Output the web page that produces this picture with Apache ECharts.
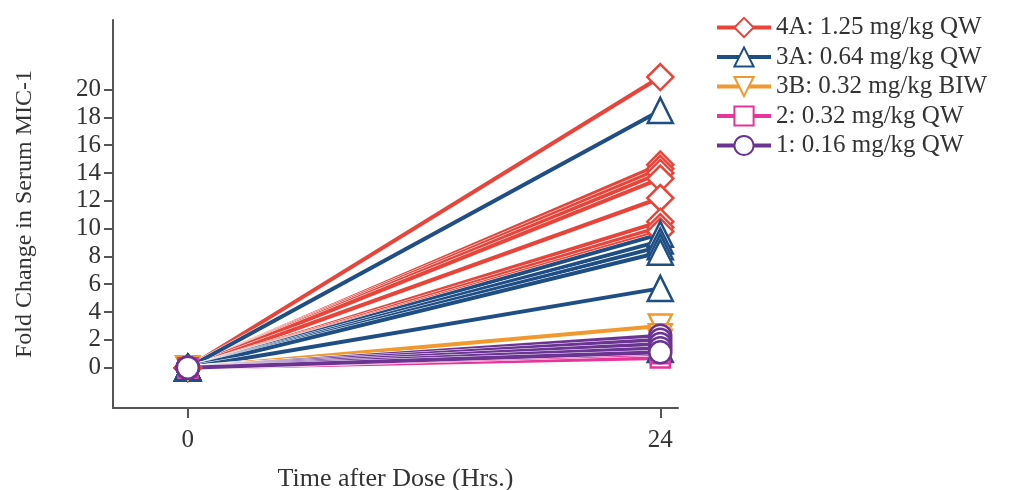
<!DOCTYPE html>
<html><head><meta charset="utf-8">
<script src="https://cdn.jsdelivr.net/npm/echarts@6/dist/echarts.min.js"></script>
<style>html,body{margin:0;padding:0;background:#fff}#c{width:1010px;height:490px}</style>
</head><body><div id="c"></div>
<script>
// Data
const groupNames = ['4A: 1.25 mg/kg QW','3A: 0.64 mg/kg QW','3B: 0.32 mg/kg BIW','2: 0.32 mg/kg QW','1: 0.16 mg/kg QW'];
const timePoints = [0, 24];
const baseline = 0;
const g4A = [20.9, 14.6, 14.3, 14.0, 13.6, 12.2, 10.5, 10.1, 9.8];
const g3A = [18.5, 9.6, 9.1, 8.7, 8.3, 5.7, 1.3];
const g3B = [3.0, 2.3, 1.9];
const g2 = [0.7, 1.0, 1.4];
const g1 = [2.3, 2.0, 1.7, 1.4, 1.1];
const yTicks = [0,2,4,6,8,10,12,14,16,18,20];
const xTicks = [0, 24];

const groups = [
  {name: groupNames[0], vals: g4A, color: '#E8443A', symbol: 'diamond', size: 26, rot: 0},
  {name: groupNames[1], vals: g3A, color: '#1F4E85', symbol: 'triangle', size: 25, rot: 0},
  {name: groupNames[2], vals: g3B, color: '#F0992E', symbol: 'triangle', size: 23, rot: 180},
  {name: groupNames[3], vals: g2, color: '#E6349A', symbol: 'rect', size: 19, rot: 0},
  {name: groupNames[4], vals: g1, color: '#6B3493', symbol: 'circle', size: 22, rot: 0}
];

const series = [];
groups.forEach(g => {
  g.vals.forEach(v => {
    const data = [[timePoints[0], baseline], [timePoints[1], v]];
    series.push({
      type: 'line', name: '_under', data: data, silent: true,
      showSymbol: false, symbol: 'none',
      lineStyle: {color: '#fff', width: 5}
    });
    series.push({
      type: 'line', name: g.name, data: data,
      symbol: g.symbol, symbolSize: g.size, symbolRotate: g.rot, showSymbol: true,
      lineStyle: {color: g.color, width: 4},
      itemStyle: {color: '#fff', borderColor: g.color, borderWidth: 2.5},
      emphasis: {disabled: true}
    });
  });
});

const serif = 'Liberation Serif, DejaVu Serif, serif';
const chart = echarts.init(document.getElementById('c'), null, {renderer: 'canvas'});
chart.setOption({
  animation: false,
  grid: {left: 113, right: 332, top: 20, bottom: 82, outerBoundsMode: 'none', containLabel: false},
  legend: {
    data: groupNames,
    orient: 'vertical', left: 710, top: 10,
    itemWidth: 54, itemHeight: 24, itemGap: 4.5,
    lineStyle: {width: 4},
    textStyle: {fontFamily: serif, fontSize: 25, color: '#333'}
  },
  xAxis: {
    type: 'value', min: -3.8, max: 24.9,
    name: 'Time after Dose (Hrs.)', nameLocation: 'middle', nameGap: 58,
    nameTextStyle: {fontFamily: serif, fontSize: 26, color: '#333'},
    axisLine: {show: true, onZero: false, lineStyle: {color: '#555', width: 2}},
    axisTick: {show: true, customValues: xTicks, length: 10, lineStyle: {color: '#555', width: 2}},
    axisLabel: {customValues: xTicks, fontFamily: serif, fontSize: 25, color: '#333', margin: 20},
    splitLine: {show: false}
  },
  yAxis: {
    type: 'value', min: -2.9, max: 25,
    name: 'Fold Change in Serum MIC-1', nameLocation: 'middle', nameGap: 76,
    nameTextStyle: {fontFamily: serif, fontSize: 24, color: '#333'},
    axisLine: {show: true, onZero: false, lineStyle: {color: '#555', width: 2}},
    axisTick: {show: true, customValues: yTicks, length: 9, lineStyle: {color: '#555', width: 2}},
    axisLabel: {customValues: yTicks, fontFamily: serif, fontSize: 25, color: '#333', margin: 12},
    splitLine: {show: false}
  },
  series: series
});
</script></body></html>
